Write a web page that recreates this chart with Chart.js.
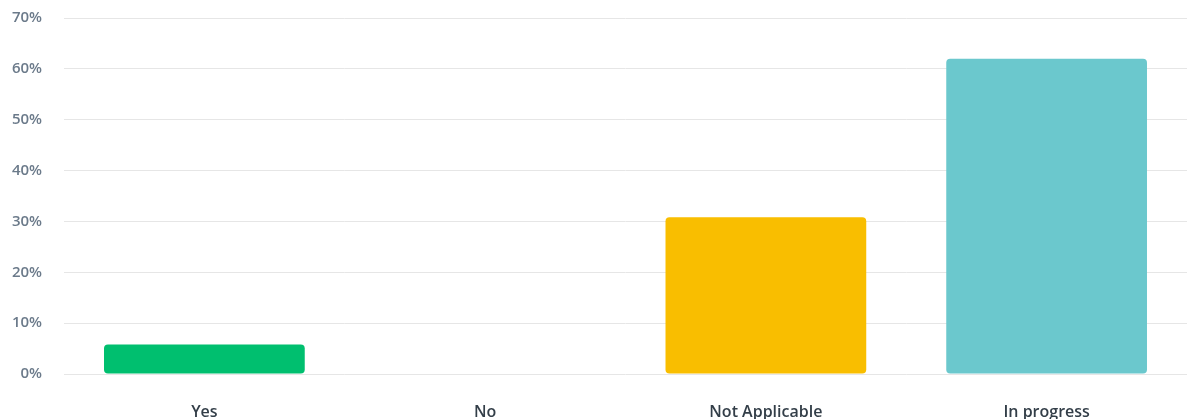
<!DOCTYPE html>
<html>
<head>
<meta charset="utf-8">
<script src="https://cdn.jsdelivr.net/npm/chart.js@4/dist/chart.umd.min.js"></script>
<style>
  html, body { margin: 0; padding: 0; background: #fff; }
  #wrap { width: 1187px; height: 419px; }
</style>
</head>
<body>
<div id="wrap"><canvas id="myChart" width="1187" height="419"></canvas></div>
<script>
const categories = ["Yes", "No", "Not Applicable", "In progress"];
const percentValues = [5.8, 0, 30.8, 62.0];
const barColors = ["#00bf6f", "#f9be00", "#f9be00", "#6bc8cd"];
const yTickValues = [0, 10, 20, 30, 40, 50, 60, 70];

function initChart() {
  const ctx = document.getElementById("myChart").getContext("2d");

  new Chart(ctx, {
    type: "bar",
    data: {
      labels: categories,
      datasets: [
        {
          data: percentValues,
          backgroundColor: barColors,
          borderRadius: 4,
          borderSkipped: false,
          barPercentage: 0.715,
          categoryPercentage: 1,
        },
      ],
    },
    options: {
      responsive: false,
      animation: false,
      layout: { padding: { top: 18, right: 0, bottom: 0, left: 0 } },
      plugins: { legend: { display: false }, tooltip: { enabled: false } },
      scales: {
        x: {
          afterFit: (axis) => {
            axis.height = 45;
            axis.paddingLeft = 0;
            axis.paddingRight = 0;
          },
          grid: { display: false, drawTicks: false },
          border: { display: false },
          ticks: {
            padding: 29,
            color: "#333e48",
            font: { family: "Open Sans", size: 16, weight: "600" },
          },
        },
        y: {
          min: 0,
          max: 70,
          afterFit: (axis) => {
            axis.width = 64;
            axis.paddingTop = 0;
            axis.paddingBottom = 0;
          },
          afterBuildTicks: (axis) => {
            axis.ticks = yTickValues.map((v) => ({ value: v }));
          },
          grid: { color: "#e6e6e6", lineWidth: 1, drawTicks: false },
          border: { display: false },
          ticks: {
            padding: 22,
            color: "#6b7a8a",
            font: { family: "Open Sans", size: 15, weight: "600" },
            callback: (v) => v + "%",
          },
        },
      },
    },
  });
}

initChart();
</script>
</body>
</html>
